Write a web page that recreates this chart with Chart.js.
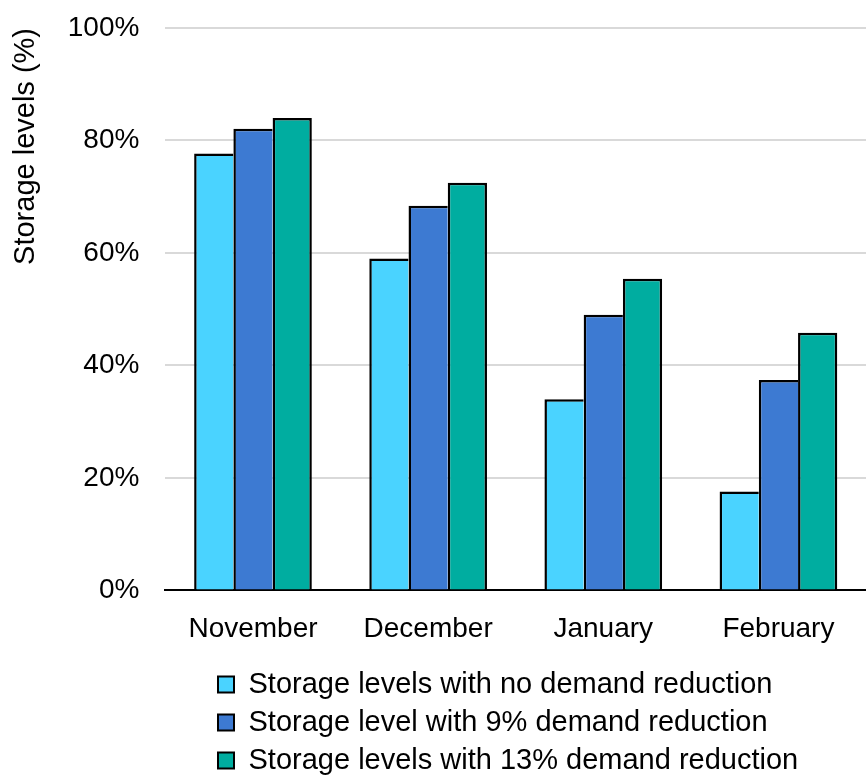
<!DOCTYPE html>
<html>
<head>
<meta charset="utf-8">
<script src="https://cdn.jsdelivr.net/npm/chart.js@4/dist/chart.umd.min.js"></script>
<style>
  html, body { margin: 0; padding: 0; background: #fff; }
  #wrap { width: 866px; height: 775px; position: relative; }
</style>
</head>
<body>
<div id="wrap"><canvas id="c"></canvas></div>
<script>
const categories = ['November', 'December', 'January', 'February'];
const seriesNames = [
  'Storage levels with no demand reduction',
  'Storage level with 9% demand reduction',
  'Storage levels with 13% demand reduction'
];
const noReduction = [77.7, 59.0, 34.0, 17.6];
const reduction9 = [82.1, 68.4, 49.0, 37.4];
const reduction13 = [84.0, 72.5, 55.4, 45.8];
const yTicks = [0, 20, 40, 60, 80, 100];

Chart.defaults.font.family = "'Liberation Sans', Arial, sans-serif";
Chart.defaults.color = '#000';

const legendShift = {
  id: 'legendShift',
  afterLayout(chart) {
    const lg = chart.legend;
    if (!lg) return;
    lg.left = 209;
    lg.top = 661;
    lg.bottom = 800;
  }
};

const innerBorder = { top: 2.5, left: 2.5, right: 0, bottom: 0 };
const lastBorder = { top: 2.5, left: 2.5, right: 2.5, bottom: 0 };

new Chart(document.getElementById('c'), {
  type: 'bar',
  data: {
    labels: categories,
    datasets: [
      { label: seriesNames[0], data: noReduction, backgroundColor: '#4AD3FF', borderWidth: innerBorder },
      { label: seriesNames[1], data: reduction9, backgroundColor: '#3D7AD2', borderWidth: innerBorder },
      { label: seriesNames[2], data: reduction13, backgroundColor: '#00ADA0', borderWidth: lastBorder }
    ].map(d => Object.assign(d, {
      borderColor: '#000', borderSkipped: false,
      categoryPercentage: 0.672, barPercentage: 1.0
    }))
  },
  options: {
    responsive: true,
    maintainAspectRatio: false,
    animation: false,
    layout: { padding: { top: 28, right: 0, bottom: 6, left: 5 } },
    plugins: {
      tooltip: { enabled: false },
      legend: {
        position: 'bottom',
        align: 'start',
        maxHeight: 101,
        labels: {
          font: { size: 29 },
          boxWidth: 16,
          boxHeight: 16,
          padding: 9,
          color: '#000',
          generateLabels(chart) {
            return chart.data.datasets.map((ds, i) => ({
              text: ds.label,
              fillStyle: ds.backgroundColor,
              strokeStyle: '#000',
              lineWidth: 2,
              hidden: false,
              datasetIndex: i
            }));
          }
        }
      }
    },
    scales: {
      x: {
        grid: { display: false, drawTicks: false },
        border: { display: true, color: '#000', width: 2 },
        ticks: { font: { size: 28 }, padding: 22, color: '#000', maxRotation: 0 }
      },
      y: {
        min: 0,
        max: 100,
        afterBuildTicks(axis) { axis.ticks = yTicks.map(v => ({ value: v })); },
        grid: { color: '#D9D9D9', lineWidth: 2, drawTicks: true, tickLength: 26, tickColor: 'rgba(0,0,0,0)' },
        border: { display: false },
        ticks: { font: { size: 28 }, padding: 0, color: '#000', callback: v => v + '%' },
        title: {
          display: true,
          text: 'Storage levels (%)',
          align: 'end',
          font: { size: 29 },
          color: '#000',
          padding: { top: 4, bottom: 24 }
        }
      }
    }
  },
  plugins: [legendShift]
});
</script>
</body>
</html>
